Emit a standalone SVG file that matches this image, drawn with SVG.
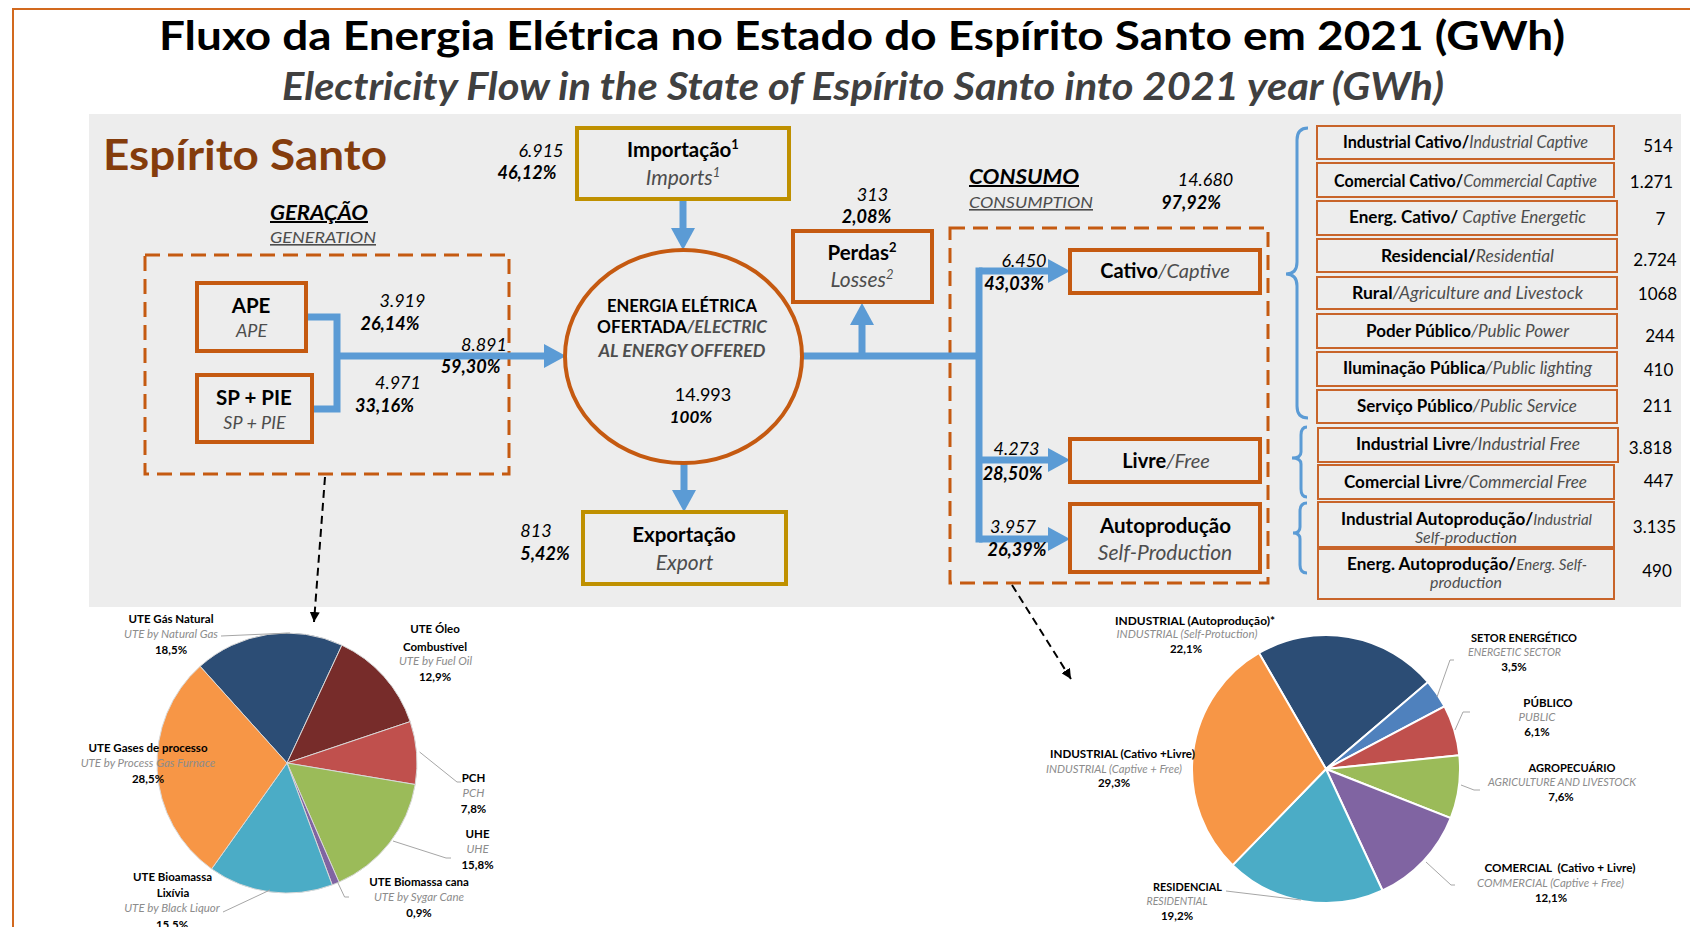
<svg xmlns="http://www.w3.org/2000/svg" width="1690" height="927" viewBox="0 0 1690 927">
<defs>
<style>
text{font-family:Lato,"Liberation Sans",sans-serif;fill:#000}
.b{font-weight:700}
.i{font-style:italic}
.g{fill:#4D4D4D}
.lg{fill:#8C8C8C}
.c{text-anchor:middle}
.sup{font-size:13px}
.bo{fill:#EDEDED;stroke:#C55A11;stroke-width:4}
.by{fill:#EDEDED;stroke:#BF9000;stroke-width:4}
.row{fill:#EDEDED;stroke:#C8642A;stroke-width:2}
.dash{fill:none;stroke:#C55A11;stroke-width:3;stroke-dasharray:15 8}
.flow{fill:none;stroke:#5B9BD5;stroke-width:7}
.brace{fill:none;stroke:#5B9BD5;stroke-width:3}
.lead{fill:none;stroke:#A6A6A6;stroke-width:1}
.darr{fill:none;stroke:#000;stroke-width:2;stroke-dasharray:8 5}
.num{font-size:18px}
.bx{font-size:20.5px}
.bxi{font-size:21px}
.rt{font-size:16.5px}
.rv{font-size:17px}
.lbl{font-size:11.5px}
.p1 path{stroke:#D9D9D9;stroke-width:1}
.p2 path{stroke:#FFFFFF;stroke-width:2}
</style>
<marker id="ah" markerUnits="userSpaceOnUse" viewBox="0 0 22 24" refX="10" refY="12" markerWidth="22" markerHeight="24" orient="auto"><path d="M0,0L22,12L0,24Z" fill="#5B9BD5"/></marker>
<marker id="ak" markerUnits="userSpaceOnUse" viewBox="0 0 10 10" refX="10" refY="5" markerWidth="10" markerHeight="10" orient="auto"><path d="M0,0L10,5L0,10Z" fill="#000"/></marker>
</defs>
<rect x="0" y="0" width="1690" height="927" fill="#FFFFFF"/>
<rect x="13" y="9" width="1700" height="1000" fill="none" stroke="#D2691E" stroke-width="2"/>
<g id="title">
<text x="862" y="50" class="b c" font-size="41" textLength="1406" lengthAdjust="spacingAndGlyphs">Fluxo da Energia Elétrica no Estado do Espírito Santo em 2021 (GWh)</text>
<text x="863" y="100" class="b i c" font-size="39" style="fill:#404040" textLength="1162" lengthAdjust="spacingAndGlyphs">Electricity Flow in the State of Espírito Santo into 2021 year (GWh)</text>
</g>
<rect id="panel" x="89" y="114" width="1592" height="493" fill="#EDEDED"/>
<text x="103" y="170" class="b" font-size="42" style="fill:#843C0C" textLength="284" lengthAdjust="spacingAndGlyphs">Espírito Santo</text>

<g id="generation-group">
<text x="270" y="220" class="b i" font-size="20" text-decoration="underline" textLength="98" lengthAdjust="spacingAndGlyphs">GERAÇÃO</text>
<text x="270" y="243" class="i g" font-size="16" text-decoration="underline" textLength="106" lengthAdjust="spacingAndGlyphs">GENERATION</text>
<rect x="145" y="255" width="364" height="219" class="dash"/>
</g>
<g id="consumption-group">
<text x="969" y="184" class="b i" font-size="20" text-decoration="underline" textLength="110" lengthAdjust="spacingAndGlyphs">CONSUMO</text>
<text x="969" y="208" class="i g" font-size="16" text-decoration="underline" textLength="124" lengthAdjust="spacingAndGlyphs">CONSUMPTION</text>
<rect x="950" y="228" width="318" height="355" class="dash"/>
<text x="1205.5" y="186" class="i c num">14.680</text>
<text x="1191" y="209" class="b i c num">97,92%</text>
</g>

<g id="connectors">
<path class="flow" d="M306,317H337V409H312"/>
<path class="flow" d="M337,356H554" marker-end="url(#ah)"/>
<path class="flow" d="M683,199V238" marker-end="url(#ah)"/>
<path class="flow" d="M684,463V500" marker-end="url(#ah)"/>
<path class="flow" d="M802,356H979"/>
<path class="flow" d="M862,356V315" marker-end="url(#ah)"/>
<path class="flow" d="M979,267.5V542.5"/>
<path class="flow" d="M979,271H1058" marker-end="url(#ah)"/>
<path class="flow" d="M979,460H1058" marker-end="url(#ah)"/>
<path class="flow" d="M979,539H1058" marker-end="url(#ah)"/>
<path class="brace" d="M1308,128Q1297,128 1297,140V262Q1297,274 1286,274Q1297,274 1297,286V406Q1297,418 1308,418"/>
<path class="brace" d="M1307,427Q1301,427 1301,435V452Q1301,458 1292,458Q1301,458 1301,464V489Q1301,497 1307,497"/>
<path class="brace" d="M1307,503Q1300,503 1300,511V527Q1300,533 1293,533Q1300,533 1300,539V565Q1300,573 1307,573"/>
<path class="darr" d="M325,477L314,622" marker-end="url(#ak)"/>
<path class="darr" d="M1012,585L1071,679" marker-end="url(#ak)"/>
</g>

<g id="flow-labels">
<text x="541" y="157" class="i c num">6.915</text>
<text x="527" y="179" class="b i c num">46,12%</text>
<text x="402.5" y="307" class="i c num">3.919</text>
<text x="390" y="330" class="b i c num">26,14%</text>
<text x="484" y="351" class="i c num">8.891</text>
<text x="470.5" y="373" class="b i c num">59,30%</text>
<text x="398" y="389" class="i c num">4.971</text>
<text x="384.5" y="412" class="b i c num">33,16%</text>
<text x="872.5" y="201" class="i c num">313</text>
<text x="866.5" y="223" class="b i c num">2,08%</text>
<text x="536" y="537" class="i c num">813</text>
<text x="545" y="560" class="b i c num">5,42%</text>
<text x="1024" y="267" class="i c num">6.450</text>
<text x="1014" y="290" class="b i c num">43,03%</text>
<text x="1016.5" y="455" class="i c num">4.273</text>
<text x="1012.5" y="480" class="b i c num">28,50%</text>
<text x="1013" y="533" class="i c num">3.957</text>
<text x="1017" y="556" class="b i c num">26,39%</text>
</g>

<g id="ape">
<rect x="197" y="283" width="109" height="68" class="bo"/>
<text x="251" y="313" class="b c bx">APE</text>
<text x="251.5" y="337" class="i g c" font-size="18">APE</text>
</g>
<g id="sp-pie">
<rect x="197" y="375" width="115" height="67" class="bo"/>
<text x="254" y="405" class="b c bx">SP + PIE</text>
<text x="254.5" y="429" class="i g c" font-size="18">SP + PIE</text>
</g>
<g id="importacao">
<rect x="577" y="128" width="212" height="71" class="by"/>
<text x="683" y="157" class="b c bx">Importação<tspan class="sup" dy="-8">1</tspan></text>
<text x="683" y="185" class="i g c bxi">Imports<tspan class="sup" dy="-8">1</tspan></text>
</g>
<g id="energia-ofertada">
<ellipse cx="683.5" cy="356.5" rx="118.5" ry="106.5" fill="#EDEDED" stroke="#C55A11" stroke-width="4"/>
<text x="682" y="312" class="b c" font-size="16.5" textLength="150" lengthAdjust="spacingAndGlyphs">ENERGIA ELÉTRICA</text>
<text x="682" y="333" class="c" font-size="16.5" textLength="170" lengthAdjust="spacingAndGlyphs"><tspan class="b">OFERTADA</tspan><tspan class="b i g">/ELECTRIC</tspan></text>
<text x="682" y="357" class="b i g c" font-size="16.5" textLength="167" lengthAdjust="spacingAndGlyphs">AL ENERGY OFFERED</text>
<text x="703" y="401" class="c num">14.993</text>
<text x="691" y="423" class="b i c" font-size="17">100%</text>
</g>
<g id="exportacao">
<rect x="583" y="512" width="203" height="72" class="by"/>
<text x="684" y="542" class="b c bx">Exportação</text>
<text x="684.5" y="570" class="i g c bxi">Export</text>
</g>
<g id="perdas">
<rect x="793" y="231" width="139" height="71" class="bo"/>
<text x="862" y="260" class="b c bx">Perdas<tspan class="sup" dy="-8">2</tspan></text>
<text x="862" y="287" class="i g c bxi">Losses<tspan class="sup" dy="-8">2</tspan></text>
</g>
<g id="cativo">
<rect x="1070" y="250" width="190" height="43" class="bo"/>
<text x="1165" y="278" class="c" font-size="20"><tspan class="b">Cativo</tspan><tspan class="i g">/Captive</tspan></text>
</g>
<g id="livre">
<rect x="1070" y="439" width="190" height="43" class="bo"/>
<text x="1166" y="468" class="c" font-size="20"><tspan class="b">Livre</tspan><tspan class="i g">/Free</tspan></text>
</g>
<g id="autoproducao">
<rect x="1070" y="504" width="190" height="68" class="bo"/>
<text x="1165.5" y="533" class="b c bx">Autoprodução</text>
<text x="1165" y="560" class="i g c bxi">Self-Production</text>
</g>

<g id="row-industrial-cativo"><rect x="1317" y="126" width="297" height="33" class="row"/>
<text x="1343" y="148" class="rt" textLength="245" lengthAdjust="spacingAndGlyphs"><tspan class="b">Industrial Cativo/</tspan><tspan class="i g">Industrial Captive</tspan></text>
<text x="1658" y="152" class="c rv">514</text></g>
<g id="row-comercial-cativo"><rect x="1317" y="163" width="297" height="34" class="row"/>
<text x="1334" y="187" class="rt" textLength="263" lengthAdjust="spacingAndGlyphs"><tspan class="b">Comercial Cativo/</tspan><tspan class="i g">Commercial Captive</tspan></text>
<text x="1651.5" y="188" class="c rv">1.271</text></g>
<g id="row-energ-cativo"><rect x="1317" y="201" width="300" height="34" class="row"/>
<text x="1349" y="223" class="rt" textLength="237" lengthAdjust="spacingAndGlyphs"><tspan class="b">Energ. Cativo/</tspan><tspan class="i g"> Captive Energetic</tspan></text>
<text x="1660.5" y="225" class="c rv">7</text></g>
<g id="row-residencial"><rect x="1317" y="239" width="300" height="33" class="row"/>
<text x="1381" y="262" class="rt" textLength="173" lengthAdjust="spacingAndGlyphs"><tspan class="b">Residencial/</tspan><tspan class="i g">Residential</tspan></text>
<text x="1655" y="266" class="c rv">2.724</text></g>
<g id="row-rural"><rect x="1317" y="277" width="300" height="32" class="row"/>
<text x="1352" y="299" class="rt" textLength="231" lengthAdjust="spacingAndGlyphs"><tspan class="b">Rural</tspan><tspan class="i g">/Agriculture and Livestock</tspan></text>
<text x="1657.5" y="300" class="c rv">1068</text></g>
<g id="row-poder-publico"><rect x="1317" y="314" width="300" height="34" class="row"/>
<text x="1366" y="337" class="rt" textLength="203" lengthAdjust="spacingAndGlyphs"><tspan class="b">Poder Público</tspan><tspan class="i g">/Public Power</tspan></text>
<text x="1660" y="342" class="c rv">244</text></g>
<g id="row-iluminacao"><rect x="1317" y="352" width="300" height="34" class="row"/>
<text x="1343" y="374" class="rt" textLength="249" lengthAdjust="spacingAndGlyphs"><tspan class="b">Iluminação Pública</tspan><tspan class="i g">/Public lighting</tspan></text>
<text x="1658.5" y="376" class="c rv">410</text></g>
<g id="row-servico-publico"><rect x="1317" y="390" width="300" height="33" class="row"/>
<text x="1357" y="412" class="rt" textLength="220" lengthAdjust="spacingAndGlyphs"><tspan class="b">Serviço Público</tspan><tspan class="i g">/Public Service</tspan></text>
<text x="1657.5" y="412" class="c rv">211</text></g>
<g id="row-industrial-livre"><rect x="1318" y="428" width="300" height="34" class="row"/>
<text x="1356" y="450" class="rt" textLength="224" lengthAdjust="spacingAndGlyphs"><tspan class="b">Industrial Livre</tspan><tspan class="i g">/Industrial Free</tspan></text>
<text x="1650.5" y="454" class="c rv">3.818</text></g>
<g id="row-comercial-livre"><rect x="1318" y="465" width="296" height="34" class="row"/>
<text x="1344" y="488" class="rt" textLength="243" lengthAdjust="spacingAndGlyphs"><tspan class="b">Comercial Livre</tspan><tspan class="i g">/Commercial Free</tspan></text>
<text x="1658.5" y="487" class="c rv">447</text></g>
<g id="row-industrial-autoproducao"><rect x="1318" y="502" width="296" height="45" class="row"/>
<text x="1341" y="525" class="rt" textLength="251" lengthAdjust="spacingAndGlyphs"><tspan class="b">Industrial Autoprodução/</tspan><tspan class="i g" font-size="14.5">Industrial</tspan></text>
<text x="1415" y="543" class="i g" font-size="14.5" textLength="102" lengthAdjust="spacingAndGlyphs">Self-production</text>
<text x="1654.5" y="533" class="c rv">3.135</text></g>
<g id="row-energ-autoproducao"><rect x="1318" y="549" width="296" height="50" class="row"/>
<text x="1347" y="570" class="rt" textLength="240" lengthAdjust="spacingAndGlyphs"><tspan class="b">Energ. Autoprodução/</tspan><tspan class="i g" font-size="14.5">Energ. Self-</tspan></text>
<text x="1430" y="588" class="i g" font-size="14.5" textLength="72" lengthAdjust="spacingAndGlyphs">production</text>
<text x="1657" y="577" class="c rv">490</text></g>

<g id="pie-generation" class="p1">
<path d="M287,763L200.1,666.3A130,130 0 0 1 341.9,645.2Z" fill="#2C4D75"/>
<path d="M287,763L341.9,645.2A130,130 0 0 1 410.2,721.6Z" fill="#772C2A"/>
<path d="M287,763L410.2,721.6A130,130 0 0 1 415.2,784.5Z" fill="#C0504D"/>
<path d="M287,763L415.2,784.5A130,130 0 0 1 339,882.1Z" fill="#9BBB59"/>
<path d="M287,763L339,882.1A130,130 0 0 1 332.2,884.9Z" fill="#8064A2"/>
<path d="M287,763L332.2,884.9A130,130 0 0 1 211.6,868.9Z" fill="#4BACC6"/>
<path d="M287,763L211.6,868.9A130,130 0 0 1 200.1,666.3Z" fill="#F79646"/>
</g>
<g id="pie-generation-labels">
<path class="lead" d="M221,636L290,633"/>
<path class="lead" d="M419.6,752L457,782H461"/>
<path class="lead" d="M393,841L446,858H451"/>
<path class="lead" d="M337.5,882L344.6,897H349"/>
<path class="lead" d="M270,890L223,912"/>
<text x="171" y="623" class="b c lbl">UTE Gás Natural</text>
<text x="171" y="638" class="i lg c lbl">UTE by Natural Gas</text>
<text x="171" y="654" class="b c lbl">18,5%</text>
<text x="435" y="633" class="b c lbl">UTE Óleo</text>
<text x="435" y="651" class="b c lbl">Combustível</text>
<text x="435.5" y="665" class="i lg c lbl">UTE by Fuel Oil</text>
<text x="435" y="681" class="b c lbl">12,9%</text>
<text x="473.5" y="782" class="b c lbl">PCH</text>
<text x="473.5" y="797" class="i lg c lbl">PCH</text>
<text x="473.5" y="813" class="b c lbl">7,8%</text>
<text x="477.5" y="838" class="b c lbl">UHE</text>
<text x="477.5" y="853" class="i lg c lbl">UHE</text>
<text x="477.5" y="869" class="b c lbl">15,8%</text>
<text x="419" y="886" class="b c lbl">UTE Biomassa cana</text>
<text x="419" y="901" class="i lg c lbl">UTE by Sygar Cane</text>
<text x="419" y="917" class="b c lbl">0,9%</text>
<text x="148" y="752" class="b c lbl">UTE Gases de processo</text>
<text x="148" y="767" class="i lg c lbl">UTE by Process Gas Furnace</text>
<text x="148" y="783" class="b c lbl">28,5%</text>
<text x="172.5" y="881" class="b c lbl">UTE Bioamassa</text>
<text x="173" y="897" class="b c lbl">Lixívia</text>
<text x="172" y="912" class="i lg c lbl">UTE by Black Liquor</text>
<text x="172" y="929" class="b c lbl">15,5%</text>
</g>

<g id="pie-consumption" class="p2">
<path d="M1326,769L1259,653A134,134 0 0 1 1428,682.1Z" fill="#2C4D75"/>
<path d="M1326,769L1428,682.1A134,134 0 0 1 1444.5,706.4Z" fill="#4F81BD"/>
<path d="M1326,769L1444.5,706.4A134,134 0 0 1 1459.3,755.3Z" fill="#C0504D"/>
<path d="M1326,769L1459.3,755.3A134,134 0 0 1 1450.7,818.1Z" fill="#9BBB59"/>
<path d="M1326,769L1450.7,818.1A134,134 0 0 1 1382.5,890.5Z" fill="#8064A2"/>
<path d="M1326,769L1382.5,890.5A134,134 0 0 1 1232.6,865.1Z" fill="#4BACC6"/>
<path d="M1326,769L1232.6,865.1A134,134 0 0 1 1259,653Z" fill="#F79646"/>
</g>
<g id="pie-consumption-labels">
<path class="lead" d="M1437,697L1450,660H1454"/>
<path class="lead" d="M1455,730L1463,712H1470"/>
<path class="lead" d="M1461,785L1474,790H1480"/>
<path class="lead" d="M1426,862L1451,885H1455"/>
<path class="lead" d="M1226,891L1301,900"/>
<text x="1195" y="625" class="b c lbl" textLength="160" lengthAdjust="spacingAndGlyphs">INDUSTRIAL (Autoprodução)*</text>
<text x="1187" y="638" class="i lg c lbl" textLength="141" lengthAdjust="spacingAndGlyphs">INDUSTRIAL (Self-Protuction)</text>
<text x="1186" y="653" class="b c lbl">22,1%</text>
<text x="1524" y="642" class="b c lbl" textLength="106" lengthAdjust="spacingAndGlyphs">SETOR ENERGÉTICO</text>
<text x="1514.5" y="656" class="i lg c lbl" textLength="93" lengthAdjust="spacingAndGlyphs">ENERGETIC SECTOR</text>
<text x="1514" y="671" class="b c lbl">3,5%</text>
<text x="1548" y="707" class="b c lbl">PÚBLICO</text>
<text x="1537" y="721" class="i lg c lbl">PUBLIC</text>
<text x="1537" y="736" class="b c lbl">6,1%</text>
<text x="1572" y="772" class="b c lbl" textLength="87" lengthAdjust="spacingAndGlyphs">AGROPECUÁRIO</text>
<text x="1562" y="786" class="i lg c lbl" textLength="148" lengthAdjust="spacingAndGlyphs">AGRICULTURE AND LIVESTOCK</text>
<text x="1561" y="801" class="b c lbl">7,6%</text>
<text x="1560" y="872" class="b c lbl" textLength="151" lengthAdjust="spacingAndGlyphs" xml:space="preserve">COMERCIAL  (Cativo + Livre)</text>
<text x="1550.5" y="887" class="i lg c lbl" textLength="147" lengthAdjust="spacingAndGlyphs">COMMERCIAL (Captive + Free)</text>
<text x="1551" y="902" class="b c lbl">12,1%</text>
<text x="1122.5" y="758" class="b c lbl" textLength="145" lengthAdjust="spacingAndGlyphs">INDUSTRIAL (Cativo +Livre)</text>
<text x="1114" y="773" class="i lg c lbl" textLength="136" lengthAdjust="spacingAndGlyphs">INDUSTRIAL (Captive + Free)</text>
<text x="1114" y="787" class="b c lbl">29,3%</text>
<text x="1187.5" y="891" class="b c lbl" textLength="69" lengthAdjust="spacingAndGlyphs">RESIDENCIAL</text>
<text x="1177" y="905" class="i lg c lbl" textLength="61" lengthAdjust="spacingAndGlyphs">RESIDENTIAL</text>
<text x="1177" y="920" class="b c lbl">19,2%</text>
</g>
</svg>
